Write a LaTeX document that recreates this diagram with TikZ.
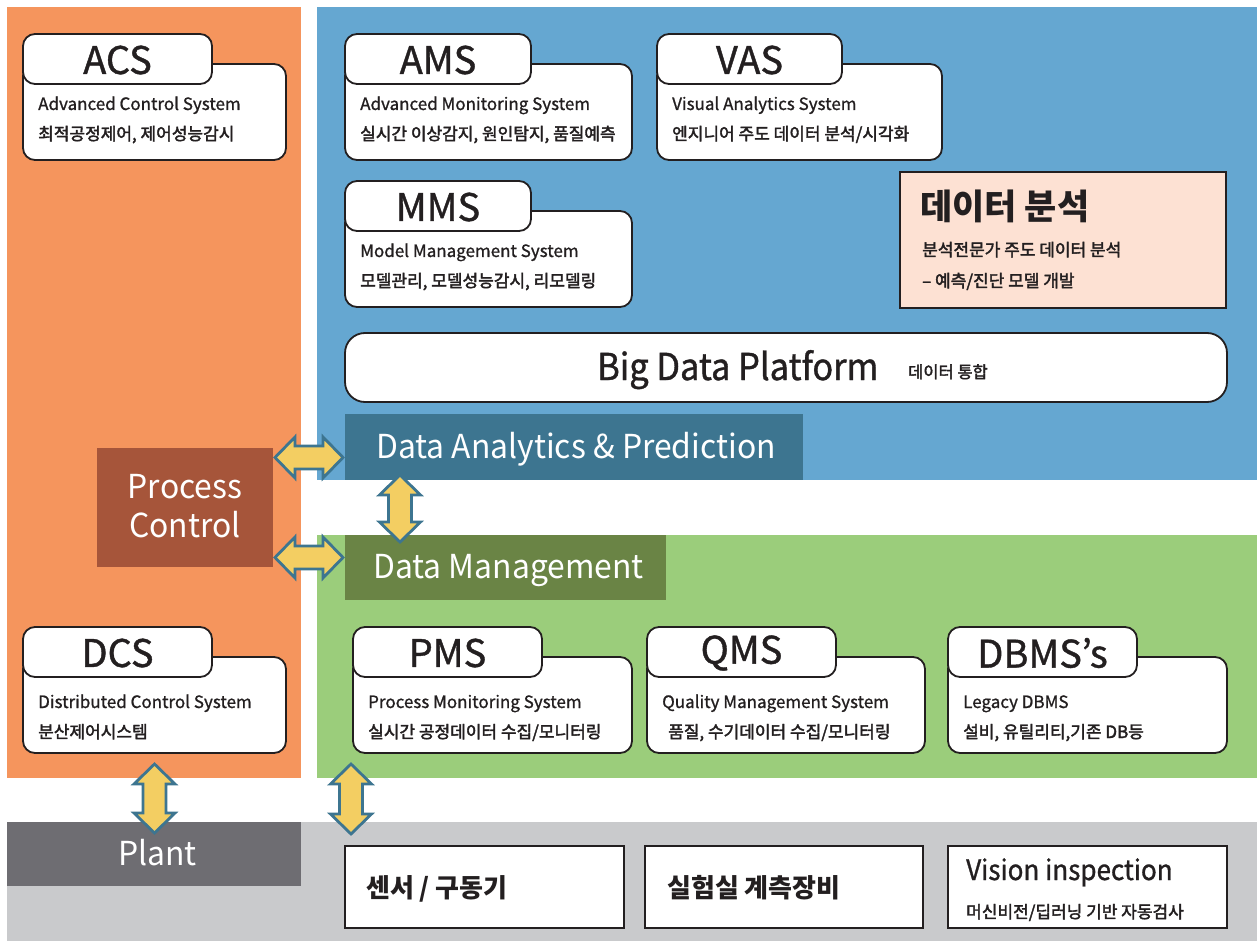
\documentclass[tikz,border=0pt]{standalone}
\usepackage{fontspec}
\setmainfont{Noto Sans CJK KR}
\newfontfamily\narrowfont{Noto Sans CJK KR}[FakeStretch=0.93,FakeBold=1]
\newfontfamily\bandfont{Noto Sans CJK KR}[FakeStretch=0.965]
\newfontfamily\titlefont{Noto Sans CJK KR}[FakeBold=1]
\newfontfamily\enfont{Noto Sans CJK KR}[FakeBold=1]
\newfontfamily\krfont{Noto Sans CJK KR}[FakeBold=2.2]
\usetikzlibrary{calc}

\definecolor{orangeP}{HTML}{F5955D}
\definecolor{blueP}{HTML}{65A7D1}
\definecolor{greenP}{HTML}{9BCD7B}
\definecolor{grayP}{HTML}{C9CACC}
\definecolor{plantC}{HTML}{6E6D72}
\definecolor{procC}{HTML}{A6553A}
\definecolor{dapC}{HTML}{3D7590}
\definecolor{dmC}{HTML}{6A8445}
\definecolor{peachC}{HTML}{FDE1D3}
\definecolor{arrFill}{HTML}{F3CE62}
\definecolor{arrLine}{HTML}{3D7590}
\definecolor{inkC}{HTML}{231F20}

% card: #1 name, #2 x, #3 y, #4 tab width, #5 body width,
%       #6 title, #7 english line, #8 korean line, #9 extra drop of text lines
\newcommand\card[9]{%
  \node[cardbox, minimum width=#5, minimum height=96] (#1body) at (#2,#3+30) {};
  \node[cardbox, minimum width=#4, minimum height=50] (#1tab) at (#2,#3) {};
  \node[cardtitle] (#1title) at ($(#1tab.center)+(0,1)$) {#6};
  \node[subline, font=\enfont\fontsize{17}{17}\selectfont] (#1en) at (#2+15,#3+76+#9) {#7};
  \node[subline] (#1kr) at (#2+15,#3+106+#9) {#8};
}

\tikzset{
  panel/.style={inner sep=0, outer sep=0, anchor=north west},
  cardbox/.style={draw=inkC, line width=1.8pt, fill=white, rounded corners=12pt,
    inner sep=0, outer sep=0, anchor=north west},
  plainbox/.style={draw=inkC, line width=2pt, fill=white, inner sep=0, outer sep=0,
    anchor=north west},
  cardtitle/.style={font=\titlefont\fontsize{38}{38}\selectfont, text=inkC, inner sep=0},
  subline/.style={font=\krfont\fontsize{17}{17}\selectfont, text=inkC, inner sep=0, anchor=base west},
  bandtext/.style={font=\bandfont\fontsize{33}{33}\selectfont, text=white, inner sep=0, anchor=base west},
  fatarrow/.style={draw=arrLine, fill=arrFill, line width=2.8pt, line join=miter},
  pics/fatarrow/.style={code={
    \path[fatarrow] (0,0) -- (20,-20.5) -- (20,-11.5) -- (#1-20,-11.5) -- (#1-20,-20.5)
      -- (#1,0) -- (#1-20,20.5) -- (#1-20,11.5) -- (20,11.5) -- (20,20.5) -- cycle;
  }},
}

\begin{document}
\begin{tikzpicture}[x=1pt,y=-1pt]
\useasboundingbox (0,0) rectangle (1257,941);
\fill[white] (0,0) rectangle (1257,941);

% background panels
\node[panel, fill=orangeP, minimum width=294, minimum height=771] (ctrlpanel) at (7,7) {};
\node[panel, fill=blueP, minimum width=940, minimum height=473] (anapanel) at (317,7) {};
\node[panel, fill=greenP, minimum width=940, minimum height=243] (datapanel) at (317,535) {};
\node[panel, fill=grayP, minimum width=1250, minimum height=119] (fieldpanel) at (7,822) {};

% band headers
\node[panel, fill=plantC, minimum width=294, minimum height=64] (plant) at (7,822) {};
\node[bandtext] (plantlbl) at (118,865) {Plant};
\node[panel, fill=procC, minimum width=176, minimum height=119] (proc) at (97,448) {};
\node[font=\bandfont\fontsize{33}{39}\selectfont, text=white, align=center, inner sep=0]
  (proclbl) at ($(proc.center)+(0,-1)$) {Process\\Control};
\node[panel, fill=dapC, minimum width=458, minimum height=66] (dap) at (345,414) {};
\node[bandtext] (daplbl) at (376,458) {Data Analytics \& Prediction};
\node[panel, fill=dmC, minimum width=321, minimum height=65] (dm) at (345,535) {};
\node[bandtext] (dmlbl) at (373,578) {Data Management};

% control side
\card{acs}{23}{34}{189}{263}{ACS}{Advanced Control System}{최적공정제어, 제어성능감시}{0}
\card{dcs}{23}{627}{189}{263}{DCS}{Distributed Control System}{분산제어시스템}{5}

% analytics side
\card{ams}{345}{34}{186}{287}{AMS}{Advanced Monitoring System}{실시간 이상감지, 원인탐지, 품질예측}{0}
\card{vas}{657}{34}{185}{285}{VAS}{Visual Analytics System}{엔지니어 주도 데이터 분석/시각화}{0}
\card{mms}{345}{181}{186}{287}{MMS}{Model Management System}{모델관리, 모델성능감시, 리모델링}{0}

\node[plainbox, fill=peachC, minimum width=326, minimum height=136] (expert) at (900,172) {};
\node[font=\bfseries\fontsize{35}{35}\selectfont, text=inkC, inner sep=0, anchor=base west]
  (experttitle) at (920,220) {데이터 분석};
\node[subline] (expert1) at (922,256) {분석전문가 주도 데이터 분석};
\node[subline] (expert2) at (922,287) {– 예측/진단 모델 개발};

\node[cardbox, rounded corners=20pt, minimum width=882, minimum height=69] (bdp) at (345,333) {};
\node[font=\narrowfont\fontsize{37}{37}\selectfont, text=inkC, inner sep=0, anchor=base west]
  (bdplbl) at (597,380) {Big Data Platform};
\node[font=\krfont\fontsize{16.5}{16.5}\selectfont, text=inkC, inner sep=0, anchor=base west]
  (bdpsub) at (908,378) {데이터 통합};

% data management side
\card{pms}{353}{627}{189}{279}{PMS}{Process Monitoring System}{실시간 공정데이터 수집/모니터링}{5}
\card{qms}{647}{627}{189}{278}{QMS}{Quality Management System}{\hspace{6pt}품질, 수기데이터 수집/모니터링}{5}
\card{dbms}{948}{627}{189}{279}{DBMS’s}{Legacy DBMS}{설비, 유틸리티,기존 DB등}{5}

% field devices
\node[plainbox, minimum width=279, minimum height=82] (sensor) at (345,846) {};
\node[font=\bfseries\fontsize{26}{26}\selectfont, text=inkC, inner sep=0, anchor=base west]
  (sensorlbl) at (366,897) {센서 / 구동기};
\node[plainbox, minimum width=278, minimum height=82] (lab) at (645,846) {};
\node[font=\bfseries\fontsize{26}{26}\selectfont, text=inkC, inner sep=0, anchor=base west]
  (lablbl) at (667,897) {실험실 계측장비};
\node[plainbox, minimum width=279, minimum height=82] (vision) at (948,846) {};
\node[font=\narrowfont\fontsize{28}{28}\selectfont, text=inkC, inner sep=0, anchor=base west]
  (visionlbl) at (966,880) {Vision inspection};
\node[subline] (visionsub) at (966,918) {머신비전/딥러닝 기반 자동검사};

% exchange arrows
\coordinate (a1) at ($(proc.east)+(2,-50)$);
\coordinate (a2) at ($(proc.east)+(2,50)$);
\coordinate (a3) at (400,475);
\coordinate (a4) at ($(dcsbody.south)+(0,11)$);
\coordinate (a5) at (351,764);
\pic at (a1) {fatarrow=68};
\pic at (a2) {fatarrow=68};
\pic[rotate=-90] at (a3) {fatarrow=67};
\pic[rotate=-90] at (a4) {fatarrow=69};
\pic[rotate=-90] at (a5) {fatarrow=70};
\end{tikzpicture}
\end{document}
